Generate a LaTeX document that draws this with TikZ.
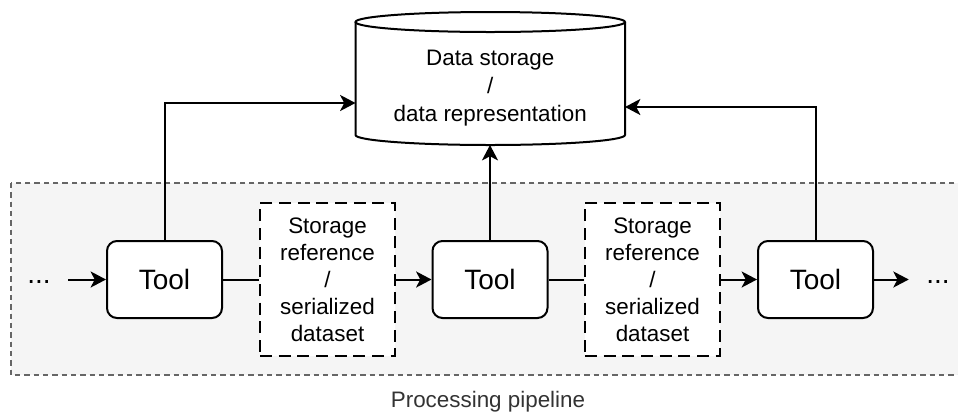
\documentclass[tikz,border=0pt]{standalone}
\usepackage{fontspec}
\setmainfont{Liberation Sans}
\usetikzlibrary{arrows.meta}
\definecolor{pipefill}{HTML}{F5F5F5}
\definecolor{pipeline}{HTML}{666666}
\definecolor{labelgray}{HTML}{333333}
\begin{document}
\begin{tikzpicture}[x=0.75pt,y=-0.75pt,
  conn/.style={line width=1.5pt, draw=black},
  tipped/.style={conn, -{Stealth[length=11.5pt,width=12pt,inset=3pt]}},
  toolbox/.style={draw, line width=1.5pt, rounded corners=7.5pt, minimum width=86.25pt, minimum height=57.75pt, fill=white, inner sep=0pt, font=\fontsize{21}{25}\selectfont},
  refbox/.style={draw, line width=1.5pt, dash pattern=on 9pt off 5pt, minimum width=101.25pt, minimum height=114.75pt, fill=white, align=center, inner sep=0pt, font=\fontsize{16.8}{20.2}\selectfont},
  dots/.style={inner xsep=13pt, inner ysep=0pt, font=\fontsize{21}{25}\selectfont, anchor=base},
  dbtext/.style={align=center, inner sep=0pt, font=\fontsize{16.8}{21}\selectfont},
  pipe/.style={fill=pipefill, draw=pipeline, line width=1pt, dash pattern=on 4pt off 3pt},
  pipelabel/.style={text=labelgray, anchor=base, inner sep=0pt, font=\fontsize{16.8}{20}\selectfont}
]
\useasboundingbox (0,0) rectangle (958,412);
% pipeline container
\draw[pipe] (11,183) rectangle (972,375);
\node[pipelabel] (plabel) at (488,407) {Processing pipeline};

% data storage cylinder
\filldraw[fill=white, line width=1.5pt]
  (355.5,22) -- (355.5,135)
  .. controls (355.5,140.52) and (415.85,145) .. (490.25,145)
  .. controls (564.65,145) and (625,140.52) .. (625,135)
  -- (625,22);
\draw[fill=white, line width=1.5pt] (490.25,22) ellipse [x radius=101.06pt, y radius=7.5pt];
\node[dbtext, minimum width=202pt, minimum height=92.25pt] (db) at (490.25,88) {Data storage\\/\\data representation};
\coordinate (dbL) at (355.5,103);
\coordinate (dbR) at (625,107);
\coordinate (dbB) at (490,145);

% pipeline nodes
\node[toolbox] (t1) at (164.5,279.5) {Tool};
\node[refbox] (s1) at (327.5,279.5) {Storage\\reference\\/\\serialized\\dataset};
\node[toolbox] (t2) at (490,279.5) {Tool};
\node[refbox] (s2) at (652.5,279.5) {Storage\\reference\\/\\serialized\\dataset};
\node[toolbox] (t3) at (815.5,279.5) {Tool};
\node[dots] (d1) at (39,283) {...};
\node[dots] (d2) at (938,283) {...};

% connectors
\draw[tipped] (d1.east |- t1.west) -- (t1.west);
\draw[conn] (t1.east) -- (s1.west);
\draw[tipped] (s1.east) -- (t2.west);
\draw[conn] (t2.east) -- (s2.west);
\draw[tipped] (s2.east) -- (t3.west);
\draw[tipped] (t3.east) -- (d2.west |- t3.east);

\draw[tipped] (t1.north) |- (dbL);
\draw[tipped] (t2.north) -- (dbB);
\draw[tipped] (t3.north) |- (dbR);
\end{tikzpicture}
\end{document}
